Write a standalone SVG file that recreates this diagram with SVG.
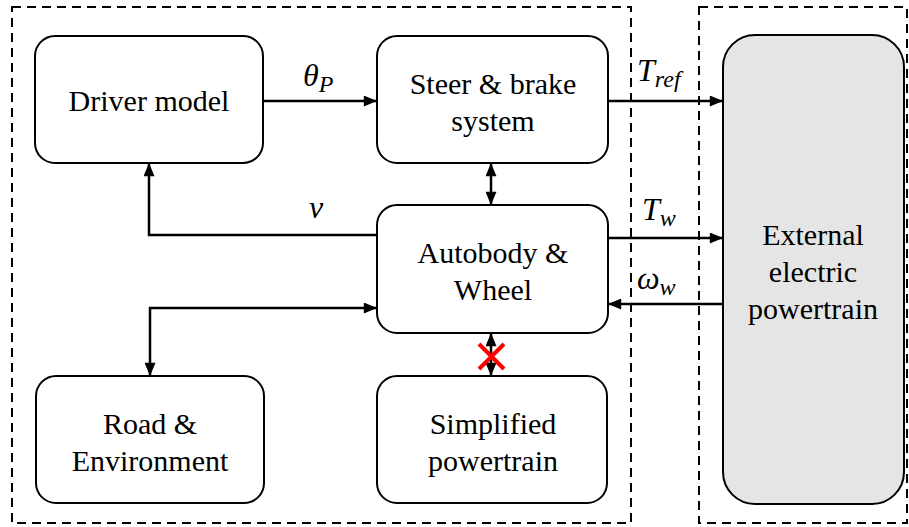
<svg xmlns="http://www.w3.org/2000/svg" width="909" height="527" viewBox="0 0 909 527">
<style>
.box{fill:#fff;stroke:#000;stroke-width:2}
.gray{fill:#e6e5e6;stroke:#000;stroke-width:2}
.dash{fill:none;stroke:#000;stroke-width:2;stroke-dasharray:9,6}
.t{font-family:'Liberation Serif','Times New Roman','DejaVu Serif',serif;font-size:30px;text-anchor:middle;fill:#000}
.m{font-family:'Liberation Serif','Times New Roman','DejaVu Serif',serif;font-style:italic;font-size:32px;fill:#000}
.s{font-size:24px}
.c{fill:none;stroke:#000;stroke-width:2.5}
</style>
<defs>
<marker id="a" viewBox="0 0 12 10" refX="12" refY="5" markerWidth="14" markerHeight="11" markerUnits="userSpaceOnUse" orient="auto-start-reverse">
<path d="M0,0 L12,5 L0,10 z" fill="#000"/>
</marker>
</defs>
<rect class="dash" x="12" y="7" width="619" height="516"/>
<rect class="dash" x="699" y="7" width="208" height="516"/>
<g id="driver"><rect class="box" x="35" y="36" width="228" height="127" rx="20"/><text class="t" x="149" y="111">Driver model</text></g>
<g id="steer"><rect class="box" x="377" y="36" width="231" height="127" rx="20"/><text class="t" x="493" y="94">Steer &amp; brake</text><text class="t" x="493" y="131">system</text></g>
<g id="autobody"><rect class="box" x="377" y="205" width="231" height="128" rx="20"/><text class="t" x="493" y="263">Autobody &amp;</text><text class="t" x="493" y="300">Wheel</text></g>
<g id="road"><rect class="box" x="36" y="376" width="228" height="127" rx="20"/><text class="t" x="150" y="434">Road &amp;</text><text class="t" x="150" y="471">Environment</text></g>
<g id="simplified"><rect class="box" x="377" y="376" width="230" height="127" rx="20"/><text class="t" x="493" y="434">Simplified</text><text class="t" x="493" y="471">powertrain</text></g>
<g id="external"><rect class="gray" x="723" y="35" width="181" height="469" rx="32"/><text class="t" x="813" y="245">External</text><text class="t" x="813" y="282">electric</text><text class="t" x="813" y="319">powertrain</text></g>
<g id="connectors">
<line class="c" x1="263" y1="101" x2="377" y2="101" marker-end="url(#a)"/>
<line class="c" x1="608" y1="101" x2="723" y2="101" marker-end="url(#a)"/>
<line class="c" x1="608" y1="238" x2="723" y2="238" marker-end="url(#a)"/>
<line class="c" x1="723" y1="304" x2="608" y2="304" marker-end="url(#a)"/>
<line class="c" x1="491" y1="163" x2="491" y2="205" marker-start="url(#a)" marker-end="url(#a)"/>
<polyline class="c" points="377,235 149,235 149,163" marker-end="url(#a)"/>
<polyline class="c" points="377,308 150,308 150,376" marker-start="url(#a)" marker-end="url(#a)"/>
<line class="c" x1="491" y1="333" x2="491" y2="376" marker-start="url(#a)" marker-end="url(#a)"/>
<path d="M479,344 L504,369 M504,344 L479,369" stroke="#ff0000" stroke-width="4" fill="none"/>
<text class="m" x="303" y="86">θ<tspan class="s" dy="6">P</tspan></text>
<text class="m" x="637" y="81">T<tspan class="s" dy="6">ref</tspan></text>
<text class="m" x="642" y="220">T<tspan class="s" dy="6">w</tspan></text>
<text class="m" x="637" y="289">ω<tspan class="s" dy="6">w</tspan></text>
<text class="m" x="309" y="218">v</text>
</g>
</svg>
